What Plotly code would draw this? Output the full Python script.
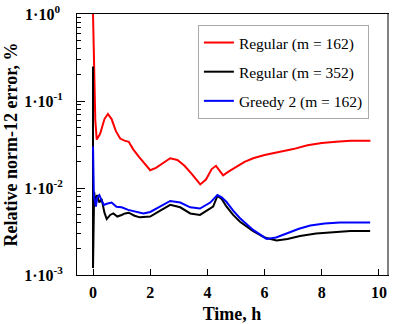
import plotly.graph_objects as go

# --- data ---
t_red = [0.0, 0.03, 0.08, 0.13, 0.25, 0.4, 0.52, 0.65, 0.8, 0.95, 1.1, 1.25, 1.4, 1.6, 1.8, 2.0, 2.2, 2.45, 2.7, 2.95, 3.2, 3.45, 3.75, 3.95, 4.15, 4.3, 4.45, 4.55, 4.75, 5.0, 5.3, 5.6, 6.0, 6.5, 7.0, 7.5, 8.0, 8.5, 9.0, 9.7]
y_red = [1.0, 0.3, 0.06, 0.036, 0.042, 0.062, 0.071, 0.062, 0.045, 0.037, 0.035, 0.034, 0.028, 0.023, 0.019, 0.016, 0.017, 0.0195, 0.022, 0.021, 0.018, 0.0145, 0.011, 0.0125, 0.0165, 0.018, 0.0155, 0.014, 0.0155, 0.0175, 0.02, 0.022, 0.024, 0.026, 0.028, 0.031, 0.033, 0.034, 0.035, 0.035]

t_black = [0.0, 0.0, 0.04, 0.08, 0.14, 0.22, 0.3, 0.4, 0.48, 0.6, 0.71, 0.85, 1.0, 1.12, 1.25, 1.45, 1.64, 2.0, 2.35, 2.7, 3.05, 3.4, 3.74, 4.0, 4.2, 4.35, 4.5, 4.67, 4.9, 5.14, 5.6, 6.0, 6.42, 6.8, 7.24, 7.8, 8.4, 9.0, 9.69]
y_black = [0.25, 0.0012, 0.009, 0.0068, 0.0083, 0.0068, 0.0075, 0.0052, 0.0044, 0.0049, 0.0051, 0.0047, 0.0049, 0.0051, 0.0052, 0.0048, 0.0046, 0.0047, 0.0055, 0.0064, 0.006, 0.0051, 0.0049, 0.0055, 0.0061, 0.0081, 0.0075, 0.0061, 0.0049, 0.0041, 0.0032, 0.0027, 0.0025, 0.0026, 0.0028, 0.003, 0.0031, 0.0032, 0.0032]

t_blue = [0.0, 0.03, 0.06, 0.1, 0.15, 0.22, 0.3, 0.38, 0.48, 0.65, 0.82, 1.0, 1.23, 1.5, 1.76, 2.0, 2.35, 2.7, 3.05, 3.4, 3.74, 4.1, 4.35, 4.5, 4.67, 4.9, 5.14, 5.6, 6.07, 6.4, 6.77, 7.2, 7.6, 8.1, 8.64, 9.2, 9.69]
y_blue = [0.03, 0.008, 0.0073, 0.0061, 0.0078, 0.0083, 0.0072, 0.0064, 0.0066, 0.0068, 0.0061, 0.006, 0.0056, 0.0053, 0.0051, 0.0053, 0.0062, 0.0071, 0.0068, 0.006, 0.0058, 0.0068, 0.0083, 0.0078, 0.0069, 0.0055, 0.0045, 0.0033, 0.0026, 0.0027, 0.003, 0.0034, 0.0037, 0.0039, 0.004, 0.004, 0.004]

y_tickvals = [1e-3, 1e-2, 1e-1, 1e0]
y_ticktext = ["<b>1·10<sup>-3</sup></b>", "<b>1·10<sup>-2</sup></b>", "<b>1·10<sup>-1</sup></b>", "<b>1·10<sup>0&nbsp;</sup></b>"]
x_tickvals = [0, 2, 4, 6, 8, 10]
x_ticktext = ["<b>0</b>", "<b>2</b>", "<b>4</b>", "<b>6</b>", "<b>8</b>", "<b>10</b>"]

names = ["Regular (m = 162)", "Regular (m = 352)", "Greedy 2 (m = 162)"]
colors = ["#ff0000", "#000000", "#0000ff"]

minor_vals = [m * 10.0 ** e for e in (-3, -2, -1) for m in range(2, 10)]

SERIF = "Times New Roman, Liberation Serif, DejaVu Serif, serif"

fig = go.Figure()
for i, (t, y) in enumerate([(t_red, y_red), (t_black, y_black), (t_blue, y_blue)]):
    fig.add_trace(go.Scatter(x=t, y=y, mode="lines", name=names[i],
                             legendgroup=str(i),
                             line=dict(color=colors[i], width=2)))
# invisible trace to activate the right-hand frame axis
fig.add_trace(go.Scatter(x=[t_red[0]], y=[y_red[0]], yaxis="y2", mode="lines",
                         showlegend=False, hoverinfo="skip",
                         line=dict(color="rgba(0,0,0,0)")))

fig.update_layout(
    width=399, height=324, autosize=False,
    margin=dict(l=77, r=12, t=14, b=49, autoexpand=False),
    paper_bgcolor="white", plot_bgcolor="white",
    font=dict(family=SERIF, color="black", size=15),
    showlegend=True,
    legend=dict(x=0.39, y=0.958, xanchor="left", yanchor="top",
                bordercolor="#aaaaaa", borderwidth=1, bgcolor="white",
                font=dict(family=SERIF, size=15.5, color="black"),
                tracegroupgap=6, itemwidth=30),
    xaxis=dict(range=[-0.56, 10.28], tickvals=x_tickvals, ticktext=x_ticktext,
               ticks="inside", mirror=True, automargin=False,
               ticklen=6, tickcolor="black", showline=True, linecolor="black",
               linewidth=1, showgrid=False, zeroline=False, ticklabelstandoff=3,
               tickfont=dict(size=16, family=SERIF, color="black"),
               title=dict(text="<b>Time, h</b>", font=dict(size=18, family=SERIF, color="black"), standoff=8)),
    yaxis=dict(type="log", range=[-3, 0], tickvals=y_tickvals, ticktext=y_ticktext,
               ticks="inside", ticklen=8, tickcolor="black", showline=True,
               linecolor="black", linewidth=1, showgrid=False, zeroline=False,
               ticklabelstandoff=10, automargin=False,
               minor=dict(ticks="inside", ticklen=4, tickcolor="black", tickvals=minor_vals),
               tickfont=dict(size=16, family=SERIF, color="black"),
               title=dict(text="<b>Relative norm-12 error, %</b>", font=dict(size=18, family=SERIF, color="black"), standoff=1)),
    yaxis2=dict(overlaying="y", side="right", type="log", range=[-3, 0],
                showline=True, linecolor="#808080", linewidth=2,
                showticklabels=False, ticks="", showgrid=False, zeroline=False,
                automargin=False),
)

fig.write_html("out.html", config={"displayModeBar": False},
               post_script="document.body.style.margin='0';document.body.style.overflow='hidden';")
